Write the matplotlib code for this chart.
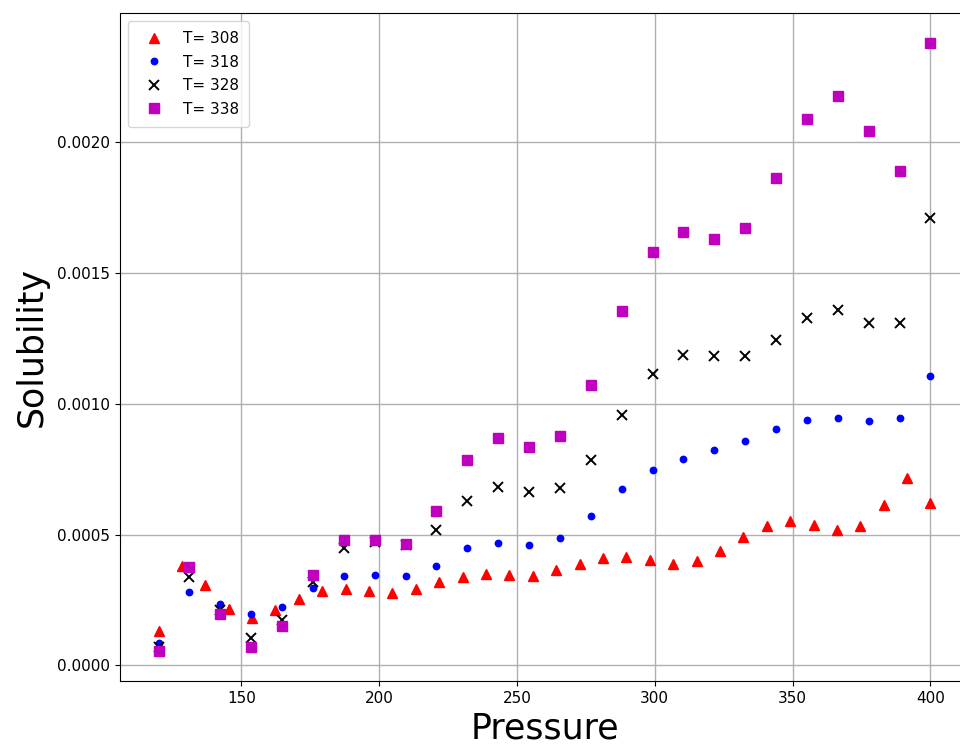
import matplotlib
matplotlib.use('Agg')
import matplotlib.pyplot as plt

# ---- data ----
# T = 308 has a finer pressure grid than the other three temperatures
p_308 = [120, 128.5, 137.0, 145.5, 153.9, 162.4, 170.9, 179.4, 187.9, 196.4,
         204.8, 213.3, 221.8, 230.3, 238.8, 247.3, 255.8, 264.2, 272.7, 281.2,
         289.7, 298.2, 306.7, 315.2, 323.6, 332.1, 340.6, 349.1, 357.6, 366.1,
         374.5, 383.0, 391.5, 400]
s_308 = [0.000133, 0.000379, 0.000309, 0.000216, 0.000181, 0.000211, 0.000255,
         0.000286, 0.000290, 0.000286, 0.000277, 0.000290, 0.000318, 0.000338,
         0.000351, 0.000347, 0.000342, 0.000363, 0.000388, 0.000410, 0.000414,
         0.000401, 0.000388, 0.000397, 0.000437, 0.000490, 0.000534, 0.000553,
         0.000538, 0.000517, 0.000534, 0.000613, 0.000715, 0.000622]

p_grid = [120, 131.2, 142.4, 153.6, 164.8, 176, 187.2, 198.4, 209.6, 220.8,
          232, 243.2, 254.4, 265.6, 276.8, 288, 299.2, 310.4, 321.6, 332.8,
          344, 355.2, 366.4, 377.6, 388.8, 400]
s_318 = [0.0000855, 0.000280, 0.000235, 0.000197, 0.000222, 0.000294, 0.000341,
         0.000346, 0.000341, 0.000380, 0.000447, 0.000469, 0.000461, 0.000487,
         0.000572, 0.000673, 0.000748, 0.000788, 0.000824, 0.000858, 0.000903,
         0.000939, 0.000946, 0.000934, 0.000946, 0.001106]
s_328 = [0.000070, 0.000337, 0.000210, 0.000105, 0.000172, 0.000320, 0.000449,
         0.000470, 0.000460, 0.000517, 0.000628, 0.000682, 0.000663, 0.000678,
         0.000783, 0.000957, 0.001115, 0.001185, 0.001183, 0.001183, 0.001244,
         0.001328, 0.001359, 0.001309, 0.001309, 0.001708]
s_338 = [0.0000563, 0.000377, 0.000197, 0.0000716, 0.000152, 0.000344, 0.000478,
         0.000478, 0.000465, 0.000590, 0.000783, 0.000869, 0.000836, 0.000877,
         0.001072, 0.001355, 0.001580, 0.001655, 0.001628, 0.001673, 0.001863,
         0.002089, 0.002174, 0.002041, 0.001890, 0.002377]

# Set the figure size (960 x 744 px)
fig = plt.figure(figsize=(9.6, 7.44), dpi=100)
# axes runs a little past the right edge, like the cropped original
ax = fig.add_axes([120/960, (744-681)/744, 849/960, 668/744])

ax.plot(p_308, s_308, '^', color='r', ms=7.8, ls='none', label='T= 308')
ax.plot(p_grid, s_318, 'o', color='b', ms=4.6, ls='none', label='T= 318')
ax.plot(p_grid, s_328, 'x', color='k', ms=7.2, mew=1.4, ls='none', label='T= 328')
ax.plot(p_grid, s_338, 's', color='m', ms=7.4, ls='none', label='T= 338')

ax.grid(True, color='#b0b0b0', linewidth=1.0)
ax.set_axisbelow(True)
ax.tick_params(labelsize=11)

ax.set_xlabel('Pressure', fontsize=25, labelpad=4)
ax.set_ylabel('Solubility', fontsize=25, labelpad=6)

ax.legend(loc='upper left', fontsize=11, borderaxespad=0.5,
          borderpad=0.7, handletextpad=0.9, labelspacing=0.55)

plt.savefig('out.png', dpi=100)
